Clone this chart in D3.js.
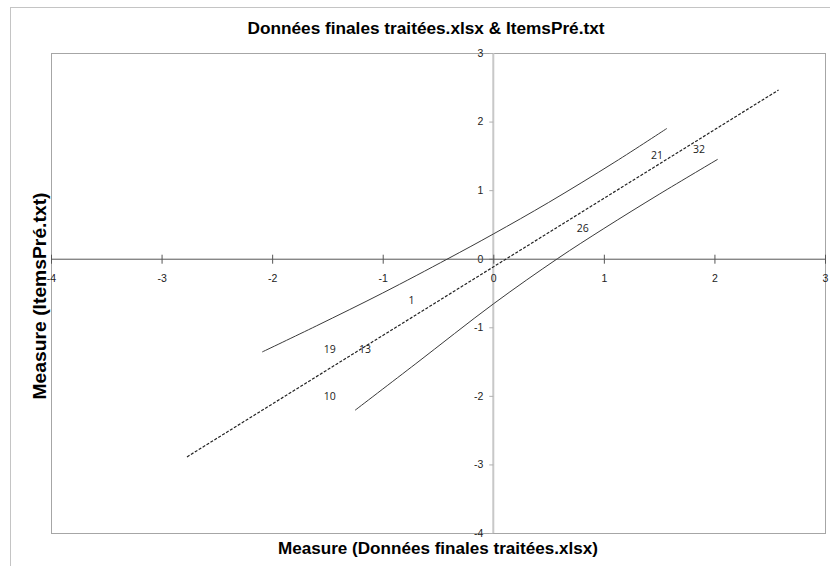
<!DOCTYPE html>
<html>
<head>
<meta charset="utf-8">
<script src="https://cdn.jsdelivr.net/npm/d3@7"></script>
<style>
  html, body { margin: 0; padding: 0; background: #fff; }
  svg { display: block; }
</style>
</head>
<body>
<svg id="chart" width="830" height="566"></svg>
<script>
// Axis ranges and ticks
const xTicks = [-4, -3, -2, -1, 0, 1, 2, 3];
const yTicks = [-4, -3, -2, -1, 0, 1, 2, 3];

// Item measures: x = Données finales traitées.xlsx, y = ItemsPré.txt
const itemLabels = ["1", "19", "13", "10", "26", "21", "32"];
const itemX = [-0.74, -1.48, -1.16, -1.48, 0.81, 1.48, 1.86];
const itemY = [-0.60, -1.32, -1.32, -2.00, 0.45, 1.51, 1.60];

// Identity (trend) line endpoints
const trendX = [-2.77, 2.58];
const trendY = [-2.89, 2.46];

// Upper and lower 95% confidence bands
const upperX = [-2.09, -1.60, -1.00, -0.41, 0.00, 0.50, 1.10, 1.57];
const upperY = [-1.36, -0.98, -0.50, 0.00, 0.36, 0.82, 1.41, 1.90];
const lowerX = [-1.25, -0.70, 0.00, 0.58, 1.00, 1.50, 2.03];
const lowerY = [-2.21, -1.53, -0.66, 0.00, 0.44, 0.94, 1.45];

const titleText = "Données finales traitées.xlsx & ItemsPré.txt";
const xTitle = "Measure (Données finales traitées.xlsx)";
const yTitle = "Measure (ItemsPré.txt)";

const svg = d3.select("#chart");
const plot = { left: 51, right: 825, top: 53, bottom: 533 };

const x = d3.scaleLinear().domain([-4, 3]).range([plot.left, plot.right]);
const y = d3.scaleLinear().domain([-4, 3]).range([plot.bottom, plot.top]);

// Plain hyphen for negative tick labels
const tickFmt = d => String(d);

// Outer chart frame
svg.append("rect")
  .attr("x", 10.5).attr("y", 7.5)
  .attr("width", 830).attr("height", 600)
  .attr("fill", "none").attr("stroke", "#c4c4c4");

// Plot area border
svg.append("rect")
  .attr("x", plot.left + 0.5).attr("y", plot.top + 0.5)
  .attr("width", plot.right - plot.left).attr("height", plot.bottom - plot.top)
  .attr("fill", "none").attr("stroke", "#a6a6a6");

// Vertical axis line through x = 0
svg.append("line")
  .attr("x1", x(0)).attr("x2", x(0))
  .attr("y1", plot.top).attr("y2", plot.bottom)
  .attr("stroke", "#c8c8c8").attr("stroke-width", 2);

// Y ticks and labels
const yAxis = d3.axisLeft(y).tickValues(yTicks).tickSize(4).tickPadding(6).tickFormat(tickFmt);
const gy = svg.append("g").attr("transform", `translate(${x(0)},0)`).call(yAxis);
gy.select(".domain").remove();
gy.selectAll(".tick line").attr("stroke", "#b0b0b0");
gy.selectAll(".tick text")
  .attr("font-family", "Liberation Sans, Arial, sans-serif")
  .attr("font-size", 10.5).attr("fill", "#222");

// Horizontal axis line through y = 0
const xAxis = d3.axisBottom(x).tickValues(xTicks).tickSize(0).tickPadding(16).tickFormat(tickFmt);
const gx = svg.append("g").attr("transform", `translate(0,${y(0)})`).call(xAxis);
gx.select(".domain").remove();
gx.selectAll(".tick text")
  .attr("font-family", "Liberation Sans, Arial, sans-serif")
  .attr("font-size", 10.5).attr("fill", "#222");
svg.append("line")
  .attr("x1", plot.left).attr("x2", plot.right)
  .attr("y1", y(0) + 0.5).attr("y2", y(0) + 0.5)
  .attr("stroke", "#555");
gx.selectAll(".tick").append("line")
  .attr("y1", -4).attr("y2", 5)
  .attr("stroke", "#555");

// Confidence bands
const line = d3.line().x(d => x(d[0])).y(d => y(d[1])).curve(d3.curveCatmullRom);
svg.append("path")
  .datum(d3.zip(upperX, upperY))
  .attr("d", line).attr("fill", "none").attr("stroke", "#3a3a3a").attr("stroke-width", 1);
svg.append("path")
  .datum(d3.zip(lowerX, lowerY))
  .attr("d", line).attr("fill", "none").attr("stroke", "#3a3a3a").attr("stroke-width", 1);

// Trend line
svg.append("path")
  .datum(d3.zip(trendX, trendY))
  .attr("d", d3.line().x(d => x(d[0])).y(d => y(d[1])))
  .attr("fill", "none").attr("stroke", "#222").attr("stroke-width", 1.2)
  .attr("stroke-dasharray", "3,1.6");

// Item labels
svg.append("g").selectAll("text")
  .data(d3.range(itemLabels.length))
  .join("text")
  .attr("x", i => x(itemX[i])).attr("y", i => y(itemY[i]))
  .attr("text-anchor", "middle").attr("dominant-baseline", "central")
  .attr("font-family", "Open Sans, Liberation Sans, sans-serif")
  .attr("font-size", 10.5).attr("fill", "#222")
  .text(i => itemLabels[i]);

// Titles
svg.append("text")
  .attr("x", 426).attr("y", 34)
  .attr("text-anchor", "middle")
  .attr("font-family", "Liberation Sans, Arial, sans-serif")
  .attr("font-weight", "bold").attr("font-size", 16)
  .attr("textLength", 357).attr("lengthAdjust", "spacingAndGlyphs")
  .attr("fill", "#000")
  .text(titleText);

svg.append("text")
  .attr("x", 438).attr("y", 554)
  .attr("text-anchor", "middle")
  .attr("font-family", "Liberation Sans, Arial, sans-serif")
  .attr("font-weight", "bold").attr("font-size", 17)
  .attr("textLength", 320).attr("lengthAdjust", "spacingAndGlyphs")
  .attr("fill", "#000")
  .text(xTitle);

svg.append("text")
  .attr("transform", "translate(46,296) rotate(-90)")
  .attr("text-anchor", "middle")
  .attr("font-family", "Liberation Sans, Arial, sans-serif")
  .attr("font-weight", "bold").attr("font-size", 18)
  .attr("textLength", 207).attr("lengthAdjust", "spacingAndGlyphs")
  .attr("fill", "#000")
  .text(yTitle);
</script>
</body>
</html>
